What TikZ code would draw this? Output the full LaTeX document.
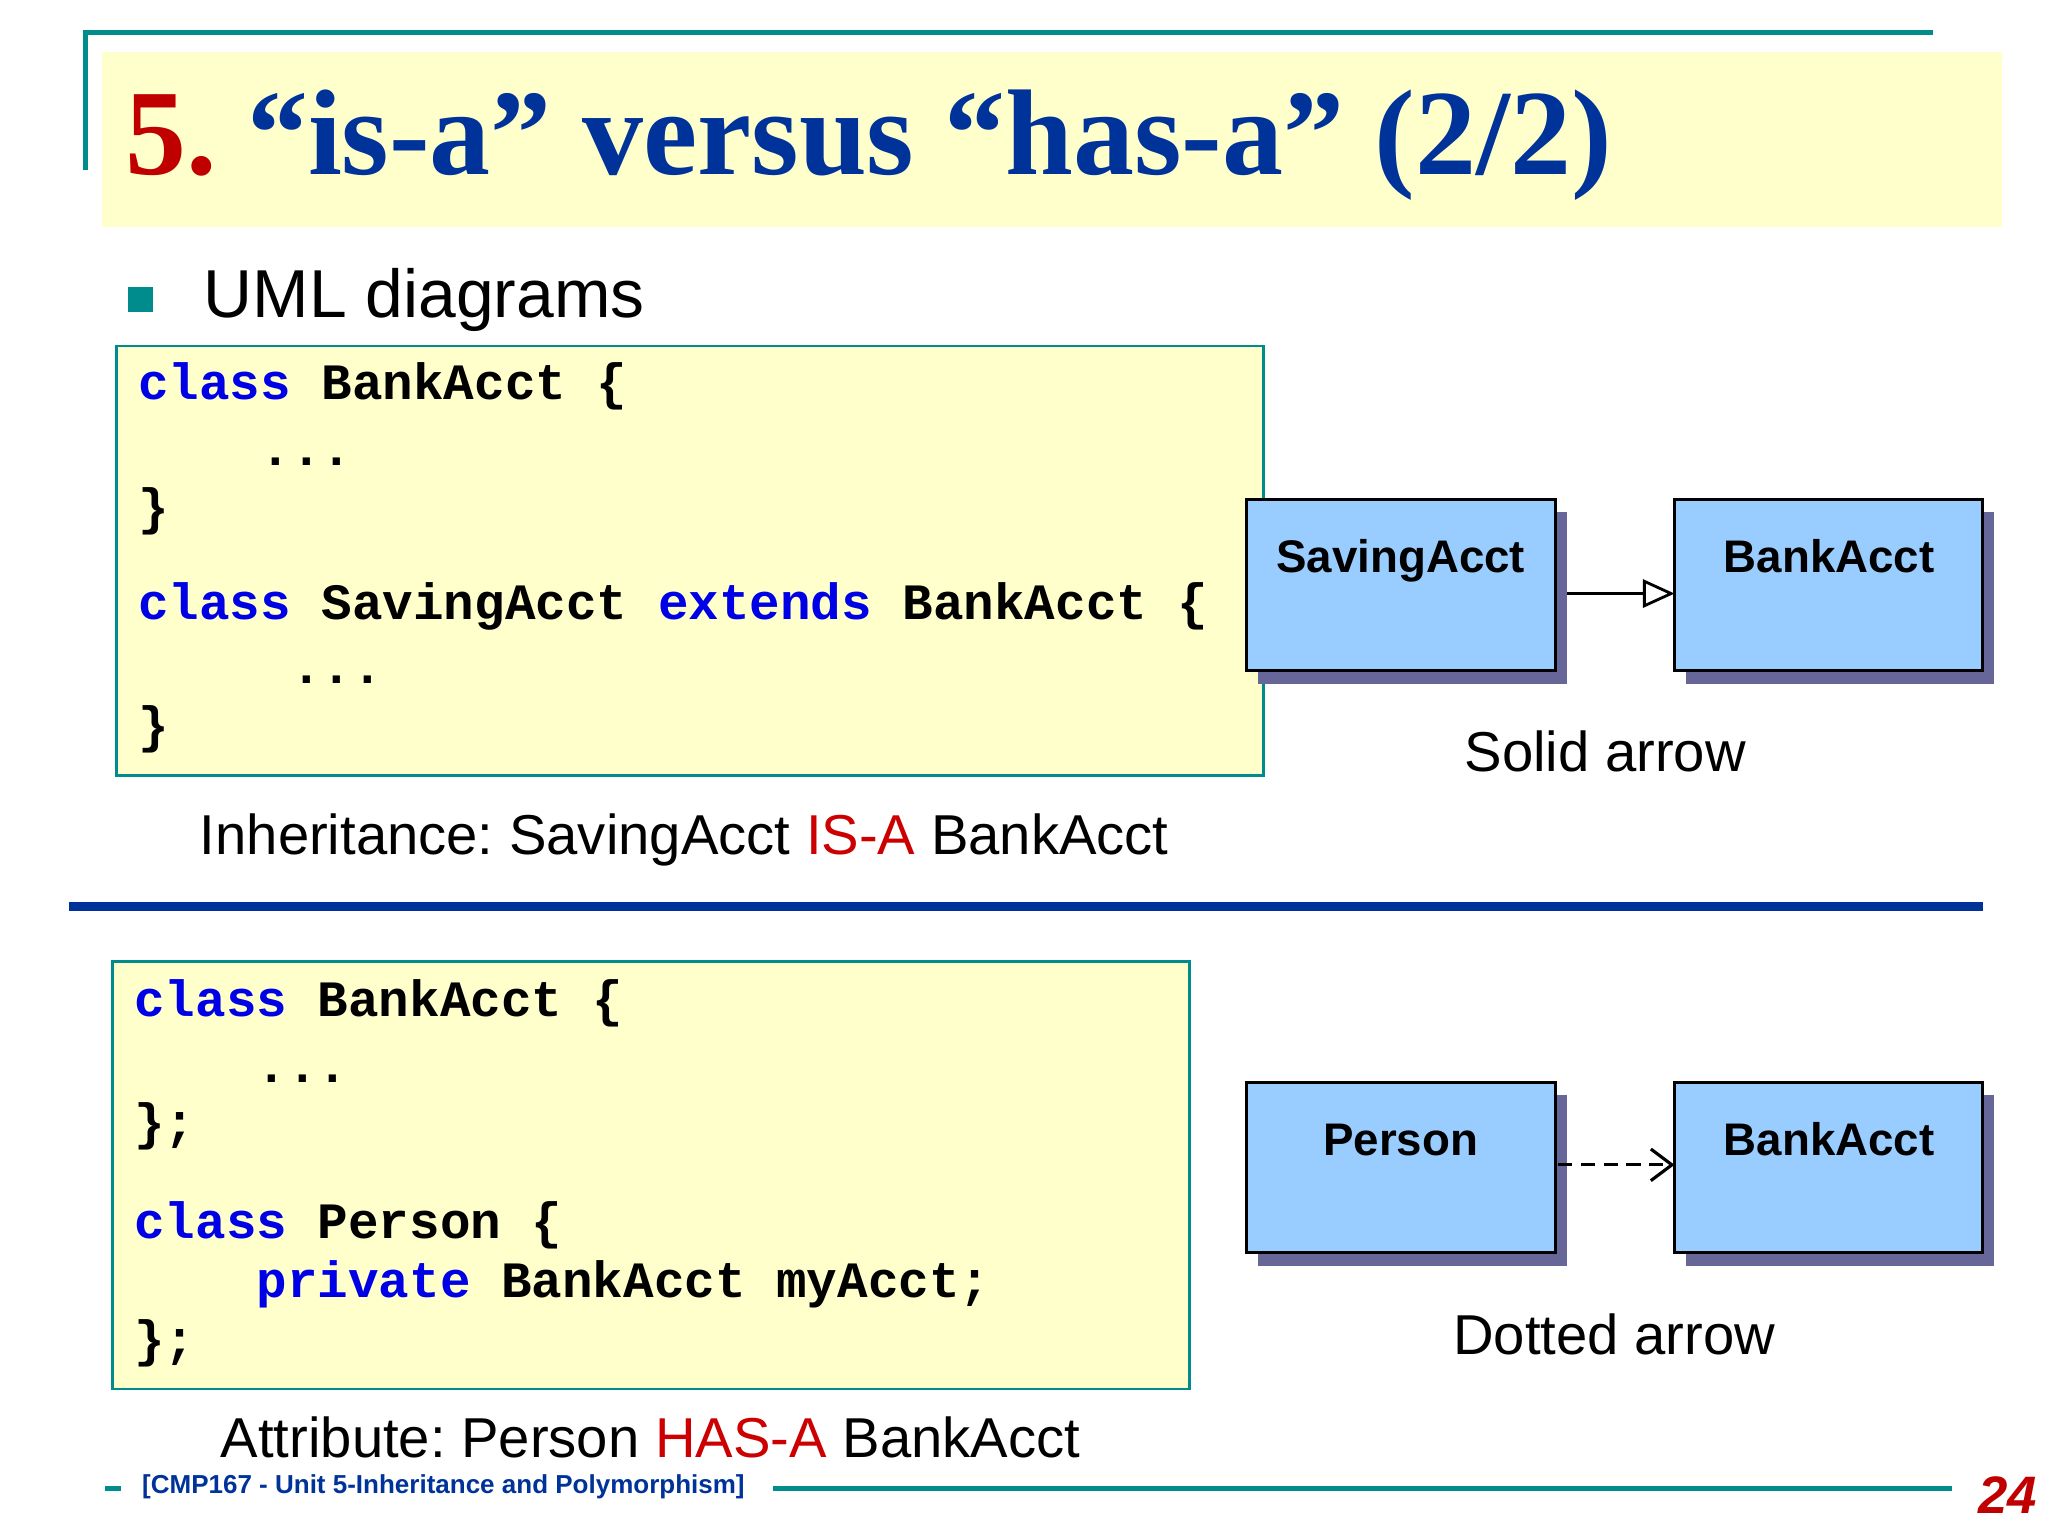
\documentclass[tikz,border=0pt]{standalone}
\usepackage{fontspec}
\setmainfont{Liberation Sans}
\newfontfamily\titlefont{Liberation Serif}
\newfontfamily\codefont{Liberation Mono}
\usetikzlibrary{arrows.meta}
\definecolor{teal1}{RGB}{0,140,140}
\definecolor{ylw}{RGB}{255,255,204}
\definecolor{dblue}{RGB}{0,51,153}
\definecolor{dred}{RGB}{192,0,0}
\definecolor{kw}{RGB}{0,0,230}
\definecolor{boxfill}{RGB}{153,204,255}
\definecolor{shadow}{RGB}{102,102,153}
\frenchspacing
\begin{document}
\begin{tikzpicture}[x=0.013103cm,y=-0.013103cm,
  code/.style={anchor=base west,inner sep=0,font=\codefont\bfseries\fontsize{14.5}{16}\selectfont},
  txt/.style={anchor=base west,inner sep=0,font=\fontsize{16}{19}\selectfont},
  cls/.style={draw=black,fill=boxfill,line width=0.8pt},
  clsname/.style={inner sep=0,font=\bfseries\fontsize{13}{15}\selectfont},
  codebox/.style={draw=teal1,fill=ylw,line width=0.8pt}]
\useasboundingbox (0,0) rectangle (1563,1172);
% header
\draw[teal1,line width=1.5pt] (65,130) -- (65,25) -- (1475,25);
\fill[ylw] (78,40) rectangle (1528,173);
\node[anchor=base west,inner sep=0,font=\titlefont\bfseries\fontsize{34.7}{40}\selectfont] (title) at (95,133)
  {\textcolor{dred}{5.} \textcolor{dblue}{“is-a” versus “has-a” (2/2)}};
\fill[teal1] (98,219) rectangle (117,238);
\node[txt,font=\fontsize{19.3}{23}\selectfont] (uml) at (155,242) {UML diagrams};
% code box 1
\draw[codebox] (89,264) rectangle (964,592);
\node[code] (c1) at (105,305) {\textcolor{kw}{class} BankAcct \{};
\node[code] (c2) at (105,355) {\phantom{cla}\ ...};
\node[code] (c3) at (105,400) {\}};
\node[code] (c4) at (105,473) {\textcolor{kw}{class} SavingAcct \textcolor{kw}{extends} BankAcct \{};
\node[code] (c5) at (105,522) {\phantom{clas}\ ...};
\node[code] (c6) at (105,567) {\}};
% boxes 1
\fill[shadow] (960,391) rectangle (1196,522);
\fill[shadow] (1287,391) rectangle (1522,522);
\draw[cls] (951,381) rectangle (1187,512);
\draw[cls] (1278,381) rectangle (1513,512);
\node[clsname,anchor=base] (sa) at (1069,437) {SavingAcct};
\node[clsname,anchor=base] (ba1) at (1396,437) {BankAcct};
\coordinate (a1s) at (1196,453);
\coordinate (a1e) at (1278,453);
\draw[line width=0.8pt,-{Triangle[open,length=9pt,width=8pt]}] (a1s) -- (a1e);
\node[txt,anchor=base] (solid) at (1225,589) {Solid arrow};
\node[txt] (inh) at (152,652) {Inheritance: SavingAcct \textcolor{red!80!black}{IS-A} BankAcct};
\draw[dblue,line width=2.5pt] (53,692) -- (1513,692);
% code box 2
\draw[codebox] (86,734) rectangle (908,1060);
\node[code] (d1) at (102,776) {\textcolor{kw}{class} BankAcct \{};
\node[code] (d2) at (102,826) {\phantom{cla}\ ...};
\node[code] (d3) at (102,870) {\};};
\node[code] (d4) at (102,945) {\textcolor{kw}{class} Person \{};
\node[code] (d5) at (102,990) {\phantom{cla}\ \textcolor{kw}{private} BankAcct myAcct;};
\node[code] (d6) at (102,1035) {\};};
% boxes 2
\fill[shadow] (960,836) rectangle (1196,966);
\fill[shadow] (1287,836) rectangle (1522,966);
\draw[cls] (951,826) rectangle (1187,956);
\draw[cls] (1278,826) rectangle (1513,956);
\node[clsname,anchor=base] (pe) at (1069,882) {Person};
\node[clsname,anchor=base] (ba2) at (1396,882) {BankAcct};
\coordinate (a2s) at (1189,889);
\coordinate (a2e) at (1278,889);
\draw[line width=0.9pt,dash pattern=on 4pt off 2.5pt,-{Straight Barb[length=6pt,width=9pt]}] (a2s) -- (a2e);
\node[txt,anchor=base] (dot) at (1232,1034) {Dotted arrow};
\node[txt] (attr) at (168,1112) {Attribute: Person \textcolor{red!80!black}{HAS-A} BankAcct};
% footer
\draw[teal1,line width=1.5pt] (80,1136) -- (92,1136);
\node[anchor=base west,inner sep=0,font=\bfseries\fontsize{7.4}{9}\selectfont,text=dblue] (foot) at (108,1140) {[CMP167 - Unit 5-Inheritance and Polymorphism]};
\draw[teal1,line width=1.5pt] (590,1136) -- (1490,1136);
\node[anchor=base east,inner sep=0,font=\bfseries\itshape\fontsize{15}{18}\selectfont,text=dred] (pg) at (1555,1155) {24};
\end{tikzpicture}
\end{document}
